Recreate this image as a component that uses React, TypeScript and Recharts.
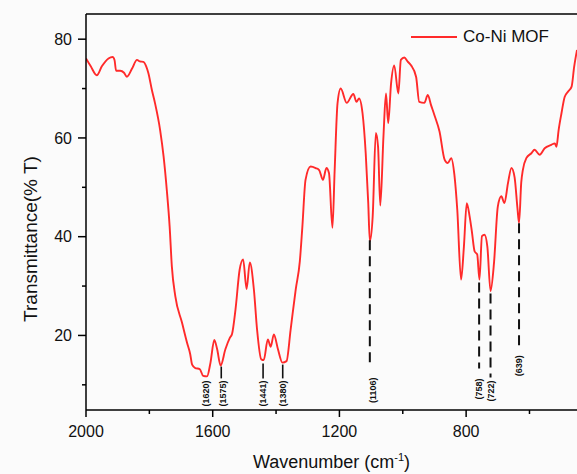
import { Label, Legend, Line, LineChart, ReferenceDot, ReferenceLine, XAxis, YAxis } from "recharts";

const wavenumber = [
  2000, 1985, 1966, 1950, 1929, 1916, 1910, 1905, 1892, 1880, 1871, 1855, 1839, 1830, 1819, 1810, 1803,
  1792, 1782, 1766, 1755, 1745, 1736, 1729, 1718, 1697, 1681, 1671, 1665, 1655, 1641, 1630, 1618, 1607,
  1595, 1586, 1575, 1560, 1546, 1539, 1528, 1515, 1504, 1493, 1483, 1470, 1460, 1447, 1439, 1426, 1417,
  1407, 1394, 1380, 1367, 1354, 1338, 1325, 1317, 1307, 1291, 1275, 1264, 1252, 1241, 1233, 1222, 1215,
  1206, 1196, 1177, 1156, 1146, 1138, 1127, 1117, 1109, 1104, 1095, 1085, 1078, 1071, 1061, 1053, 1046,
  1037, 1027, 1014, 1006, 995, 985, 974, 958, 948, 932, 921, 911, 900, 884, 868, 858, 847, 837, 828, 816,
  807, 798, 789, 782, 773, 765, 758, 750, 742, 733, 723, 712, 700, 689, 679, 668, 657, 647, 638, 633,
  626, 621, 610, 594, 584, 568, 552, 531, 520, 515, 508, 499, 489, 478, 467, 459, 450,
];

const transmittance = [
  76.1, 74.5, 72.7, 74.5, 76.1, 76.4, 75.8, 73.6, 73.6, 73.2, 72.4, 74.0, 75.8, 75.5, 75.4, 74.5, 73.1,
  69.7, 67.0, 61.6, 56.2, 49.5, 42.1, 34.0, 27.9, 22.6, 18.5, 16.2, 14.1, 13.4, 13.2, 11.8, 11.7, 14.5,
  19.1, 17.2, 13.9, 17.2, 19.5, 20.3, 25.3, 33.3, 35.4, 29.4, 34.8, 29.3, 21.2, 15.2, 15.0, 19.2, 17.7,
  20.2, 17.2, 14.5, 14.8, 21.2, 29.3, 35.0, 42.0, 51.5, 54.2, 53.9, 53.5, 51.5, 53.9, 52.9, 41.8, 53.5,
  67.0, 70.0, 67.1, 68.9, 67.3, 68.0, 65.0, 56.9, 46.8, 39.1, 44.1, 61.0, 58.2, 46.3, 60.3, 69.0, 63.0,
  71.0, 74.7, 69.0, 75.8, 76.3, 75.5, 74.7, 72.4, 67.3, 67.1, 68.7, 66.7, 64.6, 61.3, 55.6, 54.9, 55.9,
  52.5, 45.5, 31.3, 38.0, 46.8, 44.1, 41.1, 37.0, 36.4, 31.3, 40.1, 40.4, 38.0, 29.0, 34.7, 46.1, 48.2,
  46.8, 50.8, 53.9, 52.0, 45.8, 42.8, 51.0, 53.5, 55.9, 56.9, 57.6, 56.6, 57.9, 58.6, 58.9, 58.2, 61.6,
  65.0, 68.3, 69.4, 70.4, 74.4, 77.8,
];

const spectrum = wavenumber.map((w, i) => ({ w, t: transmittance[i] }));

const xTicks = [2000, 1800, 1600, 1400, 1200, 1000, 800, 600];
const xMajor = [2000, 1600, 1200, 800];
const yTicks = [10, 20, 30, 40, 50, 60, 70, 80];
const yMajor = [20, 40, 60, 80];

// peak markers: line position, line top/bottom (% T), label text and where the label starts
const peaks = [
  { wn: 1620, top: null, bottom: null, dashed: false, label: "(1620)", labelWn: 1622, labelT: 10.9 },
  { wn: 1573, top: 13.7, bottom: 11.3, dashed: false, label: "(1575)", labelWn: 1569, labelT: 10.9 },
  { wn: 1441, top: 14.3, bottom: 11.3, dashed: false, label: "(1441)", labelWn: 1441, labelT: 10.9 },
  { wn: 1379, top: 14.1, bottom: 11.3, dashed: false, label: "(1380)", labelWn: 1377, labelT: 10.9 },
  { wn: 1104, top: 39.3, bottom: 14.3, dashed: true, label: "(1106)", labelWn: 1094, labelT: 11.5 },
  { wn: 759, top: 30.7, bottom: 13.3, dashed: true, label: "(758)", labelWn: 760, labelT: 11.3 },
  { wn: 723, top: 28.5, bottom: 11.5, dashed: true, label: "(722)", labelWn: 723, labelT: 10.9 },
  { wn: 633, top: 42.7, bottom: 17.6, dashed: true, label: "(639)", labelWn: 632, labelT: 16.0 },
];

const FONT = "'Liberation Sans', Arial, sans-serif";
const RED = "#ff2a2a";

function XTick({ x, y, payload }: any) {
  const major = xMajor.includes(payload.value);
  return (
    <g>
      <line x1={x} y1={y} x2={x} y2={y + (major ? 7 : 4)} stroke="#000" strokeWidth={1.5} />
      {major && (
        <text x={x} y={y + 27} textAnchor="middle" fontSize={16} fontFamily={FONT} fill="#111">
          {payload.value}
        </text>
      )}
    </g>
  );
}

function YTick({ x, y, payload }: any) {
  const major = yMajor.includes(payload.value);
  return (
    <g>
      <line x1={x} y1={y} x2={x - (major ? 8 : 4)} y2={y} stroke="#000" strokeWidth={1.5} />
      {major && (
        <text x={x - 14} y={y} dy="0.35em" textAnchor="end" fontSize={16} fontFamily={FONT} fill="#111">
          {payload.value}
        </text>
      )}
    </g>
  );
}

function PeakLabel(text: string) {
  return ({ cx, cy }: any) => (
    <text
      x={cx}
      y={cy}
      transform={`rotate(-90 ${cx} ${cy})`}
      textAnchor="end"
      dominantBaseline="central"
      fontSize={9}
      fontWeight={600}
      fontFamily={FONT}
      fill="#111"
    >
      {text}
    </text>
  );
}

function LegendBox() {
  return (
    <div style={{ display: "flex", alignItems: "center", fontFamily: FONT, fontSize: 17, lineHeight: "22px", color: "#111" }}>
      <svg width={48} height={6}>
        <line x1={1} y1={3} x2={47} y2={3} stroke={RED} strokeWidth={2} />
      </svg>
      <span style={{ marginLeft: 5 }}>Co-Ni MOF</span>
    </div>
  );
}

export default function App() {
  return (
    <div style={{ position: "absolute", left: 0, top: 0, width: 577, height: 474, background: "#fbfbfb" }}>
      <LineChart width={577} height={474} data={spectrum} margin={{ top: 14, right: 0, bottom: 0, left: 0 }}>
        <XAxis
          dataKey="w"
          type="number"
          domain={[450, 2000]}
          reversed
          ticks={xTicks}
          interval={0}
          height={64}
          tickSize={0}
          tickMargin={0}
          tickLine={false}
          tick={<XTick />}
          axisLine={{ stroke: "#000", strokeWidth: 1.5 }}
          allowDataOverflow
        >
          <Label
            content={({ viewBox }: any) => (
              <text x={viewBox.x + viewBox.width / 2} y={viewBox.y + 58} textAnchor="middle" fontSize={18} fontFamily={FONT} fill="#111">
                <tspan>Wavenumber (cm</tspan>
                <tspan dy={-7} fontSize={11}>-1</tspan>
                <tspan dy={7}>)</tspan>
              </text>
            )}
          />
        </XAxis>
        <YAxis
          type="number"
          domain={[4.9, 85.1]}
          ticks={yTicks}
          interval={0}
          width={86}
          tickSize={0}
          tickMargin={0}
          tickLine={false}
          tick={<YTick />}
          axisLine={{ stroke: "#000", strokeWidth: 1.5 }}
          allowDataOverflow
        >
          <Label
            content={({ viewBox }: any) => (
              <text
                x={30}
                y={viewBox.y + 225}
                transform={`rotate(-90 30 ${viewBox.y + 225})`}
                textAnchor="middle"
                dominantBaseline="central"
                fontSize={19}
                fontFamily={FONT}
                fill="#111"
              >
                Transmittance(% T)
              </text>
            )}
          />
        </YAxis>
        <ReferenceLine y={85.1} stroke="#000" strokeWidth={1.5} ifOverflow="visible" />
        <Legend layout="vertical" align="center" verticalAlign="middle" wrapperStyle={{ top: 26, left: 410, width: 170 }} content={<LegendBox />} />
        <Line dataKey="t" type="monotone" stroke={RED} strokeWidth={1.9} dot={false} isAnimationActive={false} legendType="line" />
        {peaks
          .filter((p) => p.top !== null)
          .map((p) => (
            <ReferenceLine
              key={"l" + p.label}
              segment={[
                { x: p.wn, y: p.top as number },
                { x: p.wn, y: p.bottom as number },
              ]}
              stroke="#111"
              strokeWidth={p.dashed ? 2 : 1.6}
              strokeDasharray={p.dashed ? "10 6" : undefined}
            />
          ))}
        {peaks.map((p) => (
          <ReferenceDot key={"d" + p.label} x={p.labelWn} y={p.labelT} r={0} shape={PeakLabel(p.label)} />
        ))}
      </LineChart>
    </div>
  );
}
